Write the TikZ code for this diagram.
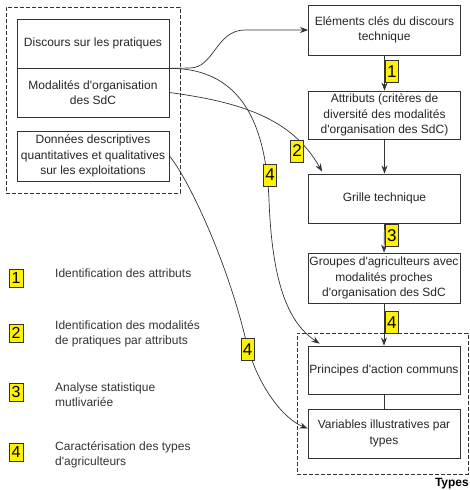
\documentclass[tikz,border=0pt]{standalone}
\usepackage{fontspec}
\setmainfont{Liberation Sans}[Ligatures=TeXOff]
\usetikzlibrary{arrows.meta}
\begin{document}
\begin{tikzpicture}[x=1pt,y=-1pt,
  box/.style={draw=black!80, line width=0.8pt, fill=white, minimum width=152pt, align=center, inner sep=1pt, font=\fontsize{12}{15.5}\selectfont, text=black!85},
  tag/.style={draw=black!80, fill=yellow, line width=0.6pt, font=\fontsize{17}{17}\selectfont, inner sep=1.2pt, minimum height=22pt, minimum width=13pt},
  legtag/.style={tag, minimum height=18pt, minimum width=14pt, font=\fontsize{16}{16}\selectfont},
  conn/.style={draw=black!80, line width=0.7pt},
  arr/.style={conn, -{Stealth[length=8pt,width=6pt]}},
  frame/.style={draw=black!80, dash pattern=on 4pt off 2pt, line width=0.7pt},
  legend/.style={anchor=west, align=left, font=\fontsize{12}{14.5}\selectfont, text=black!80, inner sep=0pt}]
\useasboundingbox (0,0) rectangle (470,490);

% frames
\node[frame, minimum width=174pt, minimum height=186pt, inner sep=0pt] (src) at (93,100) {};
\node[frame, minimum width=171pt, minimum height=141pt, inner sep=0pt] (types) at (382.5,403.5) {};
\node[anchor=east, font=\fontsize{12}{12}\selectfont\bfseries, inner sep=0pt] (typeslbl) at (469,484) {Types};

% left boxes
\node[box, minimum height=49pt] (Discours) at (93,43.5) {Discours sur les pratiques};
\node[box, minimum height=49pt] (Modalites) at (93,92.5) {Modalités d'organisation\\des SdC};
\node[box, minimum height=50pt] (Donnees) at (93,156) {Données descriptives\\quantitatives et qualitatives\\sur les exploitations};

% right boxes
\node[box, minimum height=50pt] (Elements) at (384.5,30) {Eléments clés du discours\\technique};
\node[box, minimum height=48pt] (Attributs) at (384.5,115) {Attributs (critères de\\diversité des modalités\\d'organisation des SdC)};
\node[box, minimum height=49pt] (Grille) at (384.5,198.5) {Grille technique};
\node[box, minimum height=50pt] (Groupes) at (384,278) {Groupes d'agriculteurs avec\\modalités proches\\d'organisation des SdC};
\node[box, minimum height=48pt] (Principes) at (384,370) {Principes d'action communs};
\node[box, minimum height=49pt] (Variables) at (384,433.5) {Variables illustratives par\\types};

% vertical connectors
\draw[arr] (Elements.south) -- (Attributs.north);
\draw[arr] (Attributs.south) -- (Grille.north);
\draw[arr] (Grille.south) -- (Groupes.north);
\draw[arr] (Groupes.south) -- (Principes.north);
\draw[conn] (Principes.south) -- (Variables.north);

% curved connectors
\draw[arr] (Discours.south east) -- (190,68) .. controls (214,68) and (216,30) .. (245,30) -- (Elements.west);
\draw[arr] (Discours.south east) .. controls (245,68) and (266,130) .. (269,200) .. controls (272,280) and (287,322) .. ([xshift=12pt,yshift=2pt]Principes.north west);
\draw[arr] (Modalites.east) .. controls (240,102) and (292,118) .. ([xshift=14pt,yshift=2pt]Grille.north west);
\draw[arr] (Donnees.east) .. controls (188,178) and (228,262) .. (247,345) .. controls (258,385) and (282,418) .. ([yshift=5pt]Variables.west);

% step tags
\node[tag, anchor=west] (t1) at (385,71.5) {1};
\node[tag, anchor=west] (t3) at (385,235.5) {3};
\node[tag, anchor=west] (t4a) at (385,322.5) {4};
\node[tag] (t2) at (297,151) {2};
\node[tag] (t4b) at (270,175) {4};
\node[tag] (t4c) at (247.5,349.5) {4};

% legend
\node[legtag] (l1) at (16,278) {1};
\node[legtag] (l2) at (16,333) {2};
\node[legtag] (l3) at (16,392) {3};
\node[legtag] (l4) at (16,452) {4};
\node[legend] (lt1) at (55,273) {Identification des attributs};
\node[legend] (lt2) at (55,334) {Identification des modalités\\de pratiques par attributs};
\node[legend] (lt3) at (55,394.5) {Analyse statistique\\mutlivariée};
\node[legend] (lt4) at (55,455) {Caractérisation des types\\d'agriculteurs};
\end{tikzpicture}
\end{document}
